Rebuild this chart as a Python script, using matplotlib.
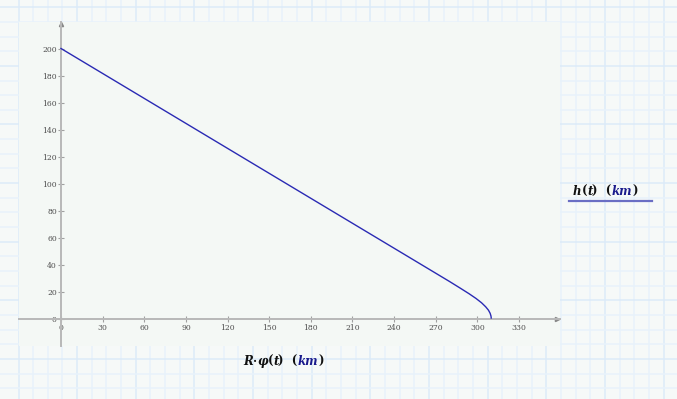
import numpy as np
import matplotlib
matplotlib.use("Agg")
import matplotlib.pyplot as plt
from matplotlib.patches import Rectangle

# curve: ground distance R*phi(t) vs altitude h(t), km
dist_km = [0, 100, 200, 250, 280, 288, 294, 299, 303, 306, 308, 309.2, 309.8, 310]
height_km = [200, 138.4, 76.8, 46.0, 27.5, 22.4, 18.5, 15.0, 11.8, 8.8, 6.3, 4.0, 2.0, 0.5]
x_ticks = list(range(0, 331, 30))
y_ticks = list(range(0, 201, 20))

W, H = 677, 399
fig = plt.figure(figsize=(W / 100, H / 100), dpi=100)
fig.patch.set_facecolor("#f6f9f8")

# grid paper background
bg = fig.add_axes([0, 0, 1, 1])
bg.set_xlim(0, W)
bg.set_ylim(H, 0)
bg.axis("off")
step = 14.66
for k in range(50):
    x = 18.5 + k * step
    major = k % 4 == 0
    bg.axvline(x, color="#dcebf8" if major else "#e8f2fb", lw=1.1, zorder=0)
for k in range(-1, 30):
    y = 7.2 + k * step
    major = k % 4 == 0
    bg.axhline(y, color="#dcebf8" if major else "#e8f2fb", lw=1.1, zorder=0)

# plot panel
pl, pr, pt, pb = 19, 560, 22, 346
bg.add_patch(Rectangle((pl, pt), pr - pl, pb - pt, facecolor="#f4f8f5", edgecolor="none", zorder=1))

ax = fig.add_axes([pl / W, (H - pb) / H, (pr - pl) / W, (pb - pt) / H])
ax.set_facecolor("none")
x0px, xs = 61, 458 / 330
y0px, ys = 318.7, 270.2 / 200
ax.set_xlim((pl - x0px) / xs, (pr - x0px) / xs)
ax.set_ylim((y0px - pb) / ys, (y0px - pt) / ys)

for s in ["top", "right"]:
    ax.spines[s].set_visible(False)
for s in ["left", "bottom"]:
    ax.spines[s].set_position("zero")
    ax.spines[s].set_color("#b8b8b8")
    ax.spines[s].set_linewidth(1.4)

ax.set_xticks(x_ticks)
ax.set_yticks(y_ticks)
ax.set_xticklabels([str(v) for v in x_ticks])
ax.set_yticklabels([str(v) for v in y_ticks])
ax.tick_params(axis="both", direction="inout", length=4, width=0.8, color="#a0a0a0",
               labelsize=5.5, labelcolor="#4d4d4d")
ax.tick_params(axis="x", pad=2)
ax.tick_params(axis="y", pad=1)
for lab in ax.get_xticklabels() + ax.get_yticklabels():
    lab.set_family("DejaVu Serif")

# axis arrow heads
ax.plot(0.995, 0, ">", color="#888888", ms=3, transform=ax.get_yaxis_transform(), clip_on=False)
ax.plot(0, 0.993, "^", color="#888888", ms=3, transform=ax.get_xaxis_transform(), clip_on=False)

ax.plot(dist_km, height_km, color="#2a2ab4", lw=1.0, zorder=5)


def rich_text(x, y, parts, size=8.5):
    # place coloured pieces one after another (pixel coords from top-left)
    fig.canvas.draw()
    r = fig.canvas.get_renderer()
    cx = x
    for txt, col, style in parts:
        t = fig.text(cx / W, 1 - y / H, txt, color=col, fontsize=size, family="DejaVu Serif",
                     style=style, weight="bold" if col != "#111111" else "semibold",
                     va="baseline")
        cx += t.get_window_extent(r).width


rich_text(243, 365, [("R", "#111111", "italic"), ("\u00b7", "#111111", "normal"),
                     ("\u03c6", "#111111", "italic"), ("(", "#111111", "normal"),
                     ("t", "#111111", "italic"), (")  (", "#111111", "normal"),
                     ("km", "#1a1a8c", "italic"), (")", "#111111", "normal")])
rich_text(573, 195, [("h", "#111111", "italic"), ("(", "#111111", "normal"),
                     ("t", "#111111", "italic"), (")  (", "#111111", "normal"),
                     ("km", "#1a1a8c", "italic"), (")", "#111111", "normal")])
bg.plot([569, 652], [201, 201], color="#6a6ec4", lw=1.6, zorder=3)

fig.savefig("out.png", dpi=100, facecolor=fig.get_facecolor())
